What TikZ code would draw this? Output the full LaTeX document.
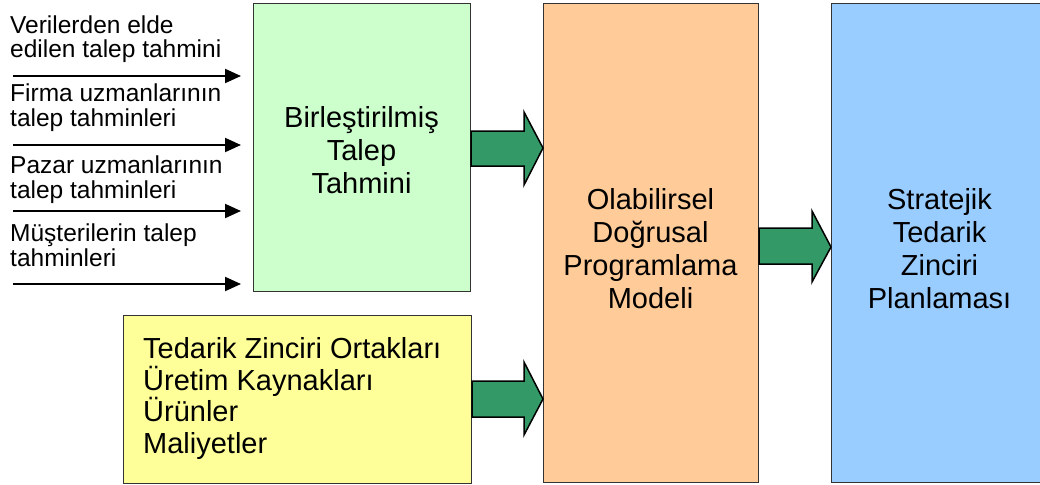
\documentclass[tikz,border=0pt]{standalone}
\usepackage{fontspec}
\setmainfont{Liberation Sans}
\usetikzlibrary{arrows.meta,calc}
\definecolor{boxgreen}{HTML}{CCFFCC}
\definecolor{boxorange}{HTML}{FFCC99}
\definecolor{boxblue}{HTML}{99CCFF}
\definecolor{boxyellow}{HTML}{FFFF99}
\definecolor{arrowgreen}{HTML}{339966}
\definecolor{edgegray}{HTML}{333333}
\tikzset{
  box/.style={draw=edgegray, line width=1pt, rectangle, inner sep=0pt, anchor=north west},
  bigtext/.style={font=\fontsize{29}{33}\selectfont, align=center, inner sep=0pt},
  leftlabel/.style={font=\fontsize{24.5}{24.5}\selectfont, align=left, inner sep=0pt, anchor=base west},
  thinarrow/.style={line width=2pt, -{Triangle[length=16pt,width=14pt]}},
  blockarrow/.style={draw=black, line width=1.5pt, fill=arrowgreen, line join=miter}
}
\begin{document}
\begin{tikzpicture}[x=1pt,y=-1pt]
\useasboundingbox (0,0) rectangle (1040,484);
% boxes
\node[box, fill=boxgreen, minimum width=217pt, minimum height=288pt] (green) at (253,3) {};
\node[box, fill=boxorange, minimum width=215pt, minimum height=479pt] (orange) at (543,3) {};
\node[box, fill=boxblue, minimum width=219pt, minimum height=479pt] (blue) at (831,3) {};
\node[box, fill=boxyellow, minimum width=348pt, minimum height=168pt] (yellow) at (123,315) {};
% texts (base anchor = baseline of last line)
\node[bigtext, anchor=base] (greentxt) at (361.5,193) {Birleştirilmiş\\Talep\\Tahmini};
\node[bigtext, anchor=base] (orangetxt) at (650.5,308) {Olabilirsel\\Doğrusal\\Programlama\\Modeli};
\node[bigtext, anchor=base] (bluetxt) at (939.5,308) {Stratejik\\Tedarik\\Zinciri\\Planlaması};
\node[bigtext, align=left, anchor=base west, font=\fontsize{29}{31.5}\selectfont] (yellowtxt) at (143,453) {Tedarik Zinciri Ortakları\\Üretim Kaynakları\\Ürünler\\Maliyetler};
% left labels
\node[leftlabel] (l1) at (10,58) {Verilerden elde\\edilen talep tahmini};
\node[leftlabel] (l2) at (10,126) {Firma uzmanlarının\\talep tahminleri};
\node[leftlabel] (l3) at (10,198) {Pazar uzmanlarının\\talep tahminleri};
\node[leftlabel] (l4) at (10,266) {Müşterilerin talep\\tahminleri};
% thin arrows
\coordinate (s1) at (13,76);  \coordinate (e1) at (241,76);
\coordinate (s2) at (13,145); \coordinate (e2) at (241,145);
\coordinate (s3) at (13,211); \coordinate (e3) at (241,211);
\coordinate (s4) at (13,284); \coordinate (e4) at (241,284);
\draw[thinarrow] (s1) -- (e1);
\draw[thinarrow] (s2) -- (e2);
\draw[thinarrow] (s3) -- (e3);
\draw[thinarrow] (s4) -- (e4);
% block arrows
\draw[blockarrow] (green.east |- 0,131) -- (524,131) -- (524,112) -- (orange.west |- 0,148) -- (524,185) -- (524,166) -- (green.east |- 0,166) -- cycle;
\draw[blockarrow] (orange.east |- 0,228) -- (812,228) -- (812,211) -- (blue.west |- 0,247) -- (812,282) -- (812,264) -- (orange.east |- 0,264) -- cycle;
\draw[blockarrow] (yellow.east |- 0,381) -- (524,381) -- (524,362) -- (orange.west |- 0,399) -- (524,435) -- (524,417) -- (yellow.east |- 0,417) -- cycle;
\end{tikzpicture}
\end{document}
